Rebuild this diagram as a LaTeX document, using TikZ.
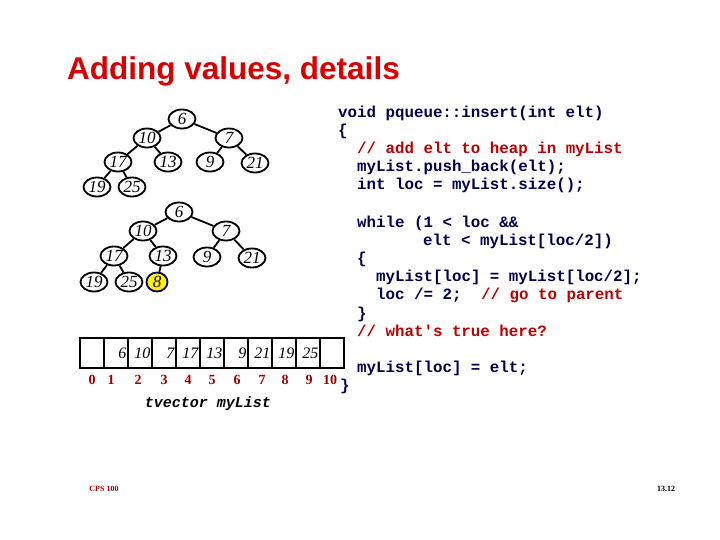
\documentclass[tikz,border=0pt]{standalone}
\usepackage{fontspec}
\setmainfont{Liberation Serif}
\setsansfont{Liberation Sans}
\setmonofont{Liberation Mono}
\usetikzlibrary{shapes.geometric}
\begin{document}
\begin{tikzpicture}[x=1pt,y=-1pt,
  hn/.style={draw,line width=1.8pt,ellipse,minimum width=27pt,minimum height=19pt,inner sep=0pt,font=\itshape\fontsize{17}{17}\selectfont},
  ed/.style={line width=1.8pt},
  cell/.style={draw,line width=1.8pt,minimum width=24pt,minimum height=30pt,inner sep=1pt,anchor=north west,align=right,text width=21pt,font=\itshape\fontsize{16}{16}\selectfont},
  idx/.style={text=red!60!black,font=\bfseries\fontsize{14}{14}\selectfont},
  code/.style={anchor=base west,inner sep=0pt,text=blue!30!black,font=\ttfamily\bfseries\fontsize{15.8}{15.8}\selectfont},
  cmt/.style={code,text=red!75!black}]
\useasboundingbox (0,0) rectangle (720,540);
\node[anchor=base west,inner sep=0pt,text=red!85!black,font=\sffamily\bfseries\fontsize{31.5}{31.5}\selectfont] (title) at (67,80) {Adding values, details};
% tree 1
\foreach \n/\x/\y/\t in {a6/182/119/6,a10/147/138/10,a7/229/138/7,a17/118/162/17,a13/168/162/13,a9/210/162/9,a21/255/163/21,a19/97/187/19,a25/132/187/25}
  \node[hn] (\n) at (\x,\y) {\t};
\draw[ed] (a6)--(a10) (a6)--(a7) (a10)--(a17) (a10)--(a13) (a7)--(a9) (a7)--(a21) (a17)--(a19) (a17)--(a25);
% tree 2
\foreach \n/\x/\y/\t in {b6/179/212/6,b10/143/231/10,b7/226/231/7,b17/114/256/17,b13/163/256/13,b9/207/257/9,b21/252/258/21,b19/94/282/19,b25/129/282/25}
  \node[hn] (\n) at (\x,\y) {\t};
\node[hn,fill=yellow,draw=blue!40!black,minimum width=21pt] (b8) at (157,282) {8};
\draw[ed] (b6)--(b10) (b6)--(b7) (b10)--(b17) (b10)--(b13) (b7)--(b9) (b7)--(b21) (b17)--(b19) (b17)--(b25) (b13)--(b8);
% array
\foreach \i/\t in {0/,1/6,2/10,3/7,4/17,5/13,6/9,7/21,8/19,9/25,10/}
  \node[cell] (c\i) at ({79+24*\i},337) {\t};
\foreach \i/\x in {0/92,1/111,2/138,3/164,4/188,5/212,6/237,7/262,8/285,9/309,10/330}
  \node[idx] (i\i) at (\x,380) {\i};
\node[font=\ttfamily\itshape\bfseries\fontsize{15}{15}\selectfont] (tv) at (208,404) {tvector myList};
% code
\node[code] (l1) at (338,118) {void pqueue::insert(int elt)};
\node[code] (l2) at (338,136) {\{};
\node[cmt] (l3) at (357,154) {// add elt to heap in myList};
\node[code] (l4) at (357,172) {myList.push\_back(elt);};
\node[code] (l5) at (357,190) {int loc = myList.size();};
\node[code] (l6) at (357,227) {while (1 < loc \&\&};
\node[code] (l7) at (423,245) {elt < myList[loc/2])};
\node[code] (l8) at (357,263) {\{};
\node[code] (l9) at (376,281) {myList[loc] = myList[loc/2];};
\node[code] (l10) at (376,299) {loc /= 2;};
\node[cmt] (l10b) at (481,299) {// go to parent};
\node[code] (l11) at (357,318) {\}};
\node[cmt] (l12) at (357,336) {// what's true here?};
\node[code] (l13) at (357,372) {myList[loc] = elt;};
\node[code] (l14) at (340,390) {\}};
% footer
\node[text=red!70!black,font=\bfseries\fontsize{8}{8}\selectfont] (f1) at (104,489) {CPS 100};
\node[font=\bfseries\fontsize{8}{8}\selectfont] (f2) at (666,489) {13.12};
\end{tikzpicture}
\end{document}
